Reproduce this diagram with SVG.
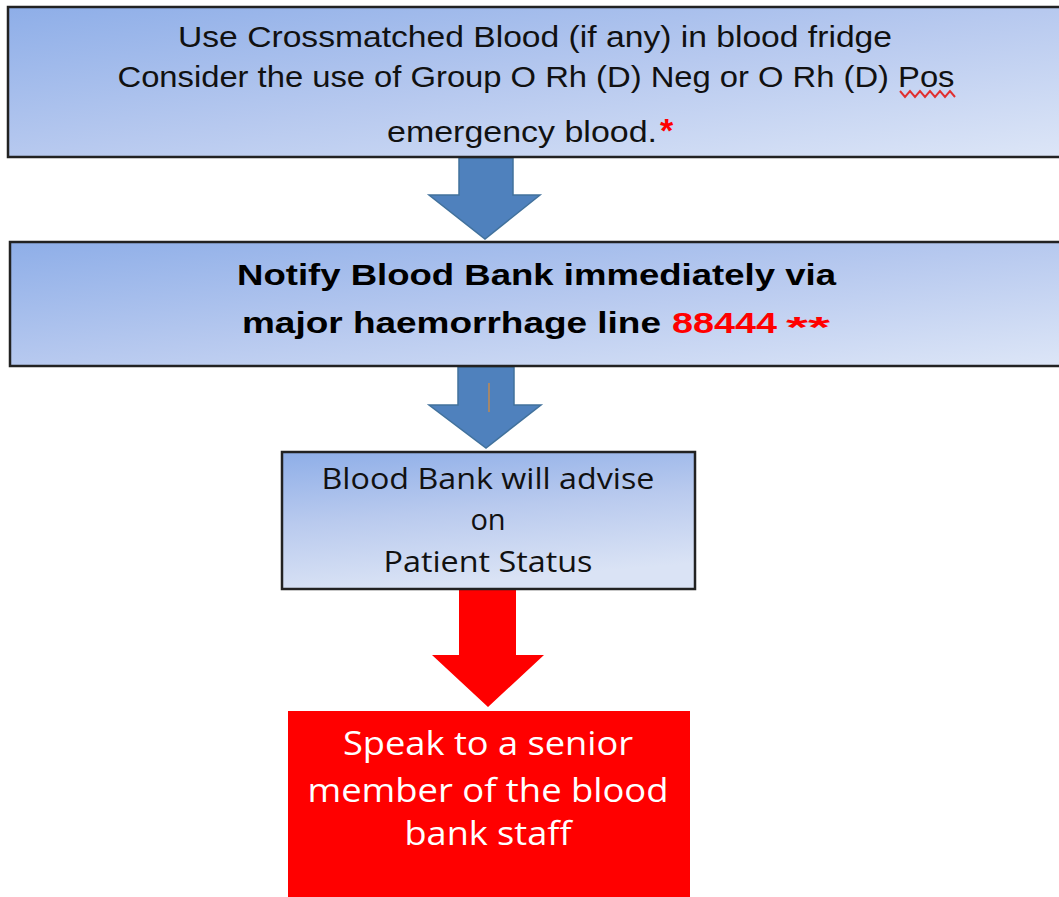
<svg xmlns="http://www.w3.org/2000/svg" width="1059" height="897" viewBox="0 0 1059 897">
  <defs>
    <linearGradient id="gBox" x1="0" y1="0" x2="1" y2="1">
      <stop offset="0" stop-color="#8eaee8"/>
      <stop offset="0.5" stop-color="#b7c9ef"/>
      <stop offset="1" stop-color="#dde6f7"/>
    </linearGradient>
    <linearGradient id="gSmall" x1="0" y1="0" x2="0.25" y2="1">
      <stop offset="0" stop-color="#8eaee8"/>
      <stop offset="0.5" stop-color="#b9caee"/>
      <stop offset="1" stop-color="#dae3f5"/>
    </linearGradient>
    <style>
      .box { stroke: #222; stroke-width: 2.5; }
      .arrowBlue { fill: #4f81bd; stroke: #41719c; stroke-width: 1.5; }
      .arrowRed { fill: #ff0000; }
      .t1 { font-family: "Liberation Sans", Arial, sans-serif; font-size: 30px; fill: #111; text-anchor: middle; }
      .tb { font-family: "Liberation Sans", Arial, sans-serif; font-size: 30px; font-weight: bold; fill: #000; }
      .t3 { font-family: "Open Sans", "Liberation Sans", sans-serif; font-size: 29px; fill: #111; text-anchor: middle; }
      .tw { font-family: "Open Sans", "Liberation Sans", sans-serif; font-size: 32px; fill: #fff; text-anchor: middle; }
      .red { fill: #ff0000; }
    </style>
  </defs>

  <rect width="1059" height="897" fill="#ffffff"/>

  <!-- connectors: block arrows between steps -->
  <g id="connectors">
    <polygon class="arrowBlue" points="459,158 513,158 513,195 540,195 485,239 429,195 459,195"/>
    <polygon class="arrowBlue" points="458,367 514,367 514,405 541,405 486,448 429,405 458,405"/>
    <line x1="489" y1="383" x2="489" y2="412" stroke="#c08a50" stroke-width="1.5"/>
    <polygon class="arrowRed" points="459,589 516,589 516,655 544,655 488,707 432,655 459,655"/>
  </g>

  <g id="step-crossmatched">
    <rect class="box" x="8" y="7" width="1060" height="150" fill="url(#gBox)"/>
    <text class="t1" x="535" y="47" textLength="714" lengthAdjust="spacingAndGlyphs">Use Crossmatched Blood (if any) in blood fridge</text>
    <text class="t1" x="536" y="87" textLength="837" lengthAdjust="spacingAndGlyphs">Consider the use of Group O Rh (D) Neg or O Rh (D) Pos</text>
    <!-- spelling squiggle under "Pos" -->
    <path d="M900,91 L905,97 L910,91 L915,97 L920,91 L925,97 L930,91 L935,97 L940,91 L945,97 L950,91 L955,97" fill="none" stroke="#e03030" stroke-width="2"/>
    <text class="t1" x="522" y="142" textLength="270" lengthAdjust="spacingAndGlyphs">emergency blood.</text>
    <text class="red" x="660" y="142" font-family="Liberation Sans, Arial, sans-serif" font-size="34" font-weight="bold">*</text>
  </g>

  <g id="step-notify">
    <rect class="box" x="10" y="242" width="1060" height="124" fill="url(#gBox)"/>
    <text class="tb" x="237" y="285" textLength="599" lengthAdjust="spacingAndGlyphs">Notify Blood Bank immediately via</text>
    <text class="tb" x="242" y="333" textLength="419" lengthAdjust="spacingAndGlyphs">major haemorrhage line</text>
    <text class="tb red" x="672" y="333" textLength="105" lengthAdjust="spacingAndGlyphs">88444</text>
    <text class="tb red" x="786" y="337" font-size="34" textLength="44" lengthAdjust="spacingAndGlyphs">**</text>
  </g>

  <g id="step-advise">
    <rect class="box" x="282" y="452" width="413" height="137" fill="url(#gSmall)"/>
    <text class="t3" x="488" y="489" textLength="333" lengthAdjust="spacingAndGlyphs">Blood Bank will advise</text>
    <text class="t3" x="488" y="530">on</text>
    <text class="t3" x="488" y="572" textLength="209" lengthAdjust="spacingAndGlyphs">Patient Status</text>
  </g>

  <g id="step-senior">
    <rect x="288" y="711" width="402" height="190" fill="#ff0000"/>
    <text class="tw" x="488" y="755" textLength="290" lengthAdjust="spacingAndGlyphs">Speak to a senior</text>
    <text class="tw" x="488" y="802" textLength="361" lengthAdjust="spacingAndGlyphs">member of the blood</text>
    <text class="tw" x="488" y="845" textLength="167" lengthAdjust="spacingAndGlyphs">bank staff</text>
  </g>
</svg>
